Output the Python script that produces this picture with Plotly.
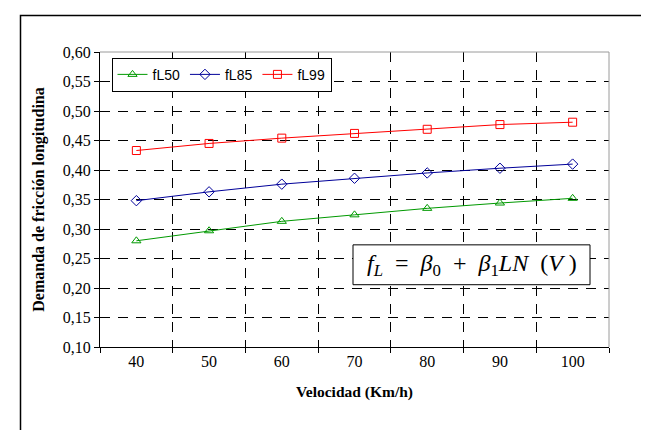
import plotly.graph_objects as go

velocidad = [40, 50, 60, 70, 80, 90, 100]
fl50 = [0.280, 0.297, 0.313, 0.324, 0.335, 0.344, 0.352]
fl85 = [0.348, 0.363, 0.376, 0.386, 0.395, 0.403, 0.410]
fl99 = [0.433, 0.445, 0.454, 0.462, 0.469, 0.477, 0.481]

series = [
    ("fL50", fl50, "#009900", "triangle-up-open"),
    ("fL85", fl85, "#000099", "diamond-open"),
    ("fL99", fl99, "#FF0000", "square-open"),
]

fig = go.Figure()
for name, vals, color, sym in series:
    fig.add_trace(go.Scatter(
        x=velocidad, y=vals, name=name, mode="lines+markers",
        line=dict(color=color, width=1),
        marker=dict(symbol=sym, size=8, color=color, line=dict(color=color, width=1)),
    ))

W, H = 649, 430
L, R, T, B = 92, 601, 43.5, 339.5
pw, ph = R - L, B - T

def px(x):
    return (x - L) / pw

def py(y):
    return (B - y) / ph

serif = "Liberation Serif"
dash = "10px,8px"

fig.update_layout(
    width=W, height=H,
    margin=dict(l=L, r=W - R, t=T, b=H - B),
    paper_bgcolor="white", plot_bgcolor="white",
    separators=",.",
    showlegend=True,
    legend=dict(
        orientation="h", x=px(103.5), y=py(49.3), xanchor="left", yanchor="top",
        bordercolor="black", borderwidth=1, bgcolor="white",
        font=dict(family="Liberation Sans", size=14, color="black"),
        itemwidth=30, tracegroupgap=0,
    ),
    xaxis=dict(
        range=[35, 105], tickmode="array", tickvals=velocidad,
        ticktext=[str(v) for v in velocidad], ticks="", showgrid=False,
        showline=True, linecolor="black", linewidth=1.3, zeroline=False,
        tickfont=dict(family=serif, size=16, color="black"),
        minor=dict(tickmode="array", tickvals=[35, 45, 55, 65, 75, 85, 95, 105],
                   ticks="outside", ticklen=5, tickcolor="black", tickwidth=1,
                   showgrid=True, gridcolor="black", gridwidth=1, griddash=dash),
        title=dict(text="<b>Velocidad (Km/h)</b>", standoff=16,
                   font=dict(family=serif, size=15.5, color="black")),
    ),
    yaxis=dict(
        range=[0.10, 0.60], tickmode="linear", tick0=0.10, dtick=0.05,
        tickformat=".2f", ticks="outside", ticklen=5, tickcolor="black",
        showgrid=True, gridcolor="black", gridwidth=1, griddash=dash,
        showline=True, linecolor="black", linewidth=1.3, zeroline=False,
        tickfont=dict(family=serif, size=16, color="black"),
        title=dict(text="<b>Demanda de fricción longitudina</b>", standoff=14,
                   font=dict(family=serif, size=16, color="black")),
    ),
)

shapes = [
    dict(type="line", xref="paper", yref="paper", x0=0, x1=1, y0=1, y1=1,
         line=dict(color="#9a9a9a", width=1)),
    dict(type="line", xref="paper", yref="paper", x0=1, x1=1, y0=0, y1=1,
         line=dict(color="#9a9a9a", width=1)),
    dict(type="rect", xref="paper", yref="paper", x0=px(12.5), x1=px(646),
         y0=py(440), y1=py(7), line=dict(color="black", width=1.5), layer="below"),
    dict(type="rect", xref="paper", yref="paper", x0=px(345), x1=px(582),
         y0=py(277), y1=py(237), line=dict(color="black", width=1),
         fillcolor="white", layer="above"),
]
fig.update_layout(shapes=shapes)

formula = ("<i>f</i><sub><i>L</i></sub>&nbsp;&nbsp;=&nbsp;&nbsp;<i>β</i><sub>0</sub>&nbsp;&nbsp;+&nbsp;&nbsp;"
           "<i>β</i><sub>1</sub><i>LN</i>&nbsp;&nbsp;(<i>V</i>&nbsp;)")
fig.add_annotation(
    text=formula, xref="paper", yref="paper", x=px(463.5), y=py(257),
    xanchor="center", yanchor="middle", showarrow=False,
    font=dict(family=serif, size=24, color="black"),
)

fig.write_html("out.html")
